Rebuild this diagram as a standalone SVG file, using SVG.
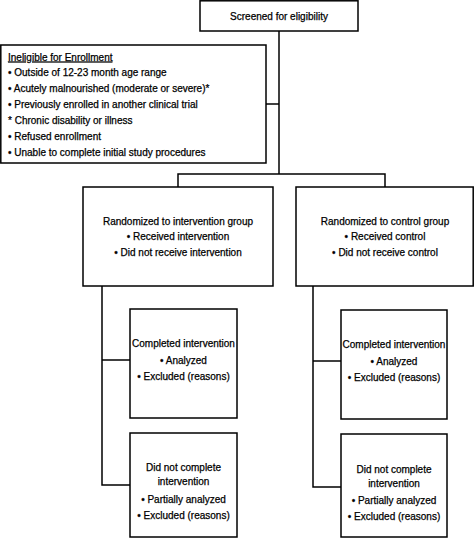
<svg xmlns="http://www.w3.org/2000/svg" width="474" height="541" viewBox="0 0 474 541">
<style>
.box{fill:#fff;stroke:#000;stroke-width:1.5}
.ln{fill:none;stroke:#000;stroke-width:1.5}
text{font-family:"Liberation Sans",Arial,sans-serif;font-size:10px;fill:#000;stroke:#000;stroke-width:0.25}
.c{text-anchor:middle}
</style>
<rect width="474" height="541" fill="#fff"/>
<g id="connectors">
<path class="ln" d="M279,31 V174"/>
<path class="ln" d="M266,104 H279"/>
<path class="ln" d="M178,187 V174 H385 V187"/>
<path class="ln" d="M102,286 V485 H130"/>
<path class="ln" d="M102,360 H130"/>
<path class="ln" d="M313,286 V487 H341"/>
<path class="ln" d="M313,361 H341"/>
</g>
<g id="screened">
<rect class="box" x="200" y="0.8" width="158" height="30.2"/>
<text class="c" x="279" y="19.5">Screened for eligibility</text>
</g>
<g id="ineligible">
<rect class="box" x="0.8" y="45" width="265.2" height="118"/>
<text x="8" y="60.5" text-decoration="underline">Ineligible for Enrollment</text>
<text x="8" y="76">• Outside of 12-23 month age range</text>
<text x="8" y="92">• Acutely malnourished (moderate or severe)*</text>
<text x="8" y="107.5">• Previously enrolled in another clinical trial</text>
<text x="8" y="123.5">* Chronic disability or illness</text>
<text x="8" y="139.5">• Refused enrollment</text>
<text x="8" y="155.5">• Unable to complete initial study procedures</text>
</g>
<g id="rand-intervention">
<rect class="box" x="83" y="187" width="190" height="99"/>
<text class="c" x="178" y="224.5">Randomized to intervention group</text>
<text class="c" x="178" y="240">• Received intervention</text>
<text class="c" x="178" y="255.5">• Did not receive intervention</text>
</g>
<g id="rand-control">
<rect class="box" x="296" y="187" width="177.2" height="99"/>
<text class="c" x="385" y="224.5">Randomized to control group</text>
<text class="c" x="385" y="240">• Received control</text>
<text class="c" x="385" y="255.5">• Did not receive control</text>
</g>
<g id="completed-intervention">
<rect class="box" x="130" y="309" width="107" height="109"/>
<text class="c" x="183.5" y="347">Completed intervention</text>
<text class="c" x="183.5" y="363.5">• Analyzed</text>
<text class="c" x="183.5" y="379.5">• Excluded (reasons)</text>
</g>
<g id="completed-control">
<rect class="box" x="341" y="310" width="106" height="109"/>
<text class="c" x="394" y="348">Completed intervention</text>
<text class="c" x="394" y="364.5">• Analyzed</text>
<text class="c" x="394" y="380.5">• Excluded (reasons)</text>
</g>
<g id="notcompleted-intervention">
<rect class="box" x="130" y="433" width="107" height="104"/>
<text class="c" x="183.5" y="471">Did not complete</text>
<text class="c" x="183.5" y="485">intervention</text>
<text class="c" x="183.5" y="503">• Partially analyzed</text>
<text class="c" x="183.5" y="519">• Excluded (reasons)</text>
</g>
<g id="notcompleted-control">
<rect class="box" x="341" y="434" width="106" height="103"/>
<text class="c" x="394" y="473">Did not complete</text>
<text class="c" x="394" y="487">intervention</text>
<text class="c" x="394" y="504">• Partially analyzed</text>
<text class="c" x="394" y="520">• Excluded (reasons)</text>
</g>
</svg>
